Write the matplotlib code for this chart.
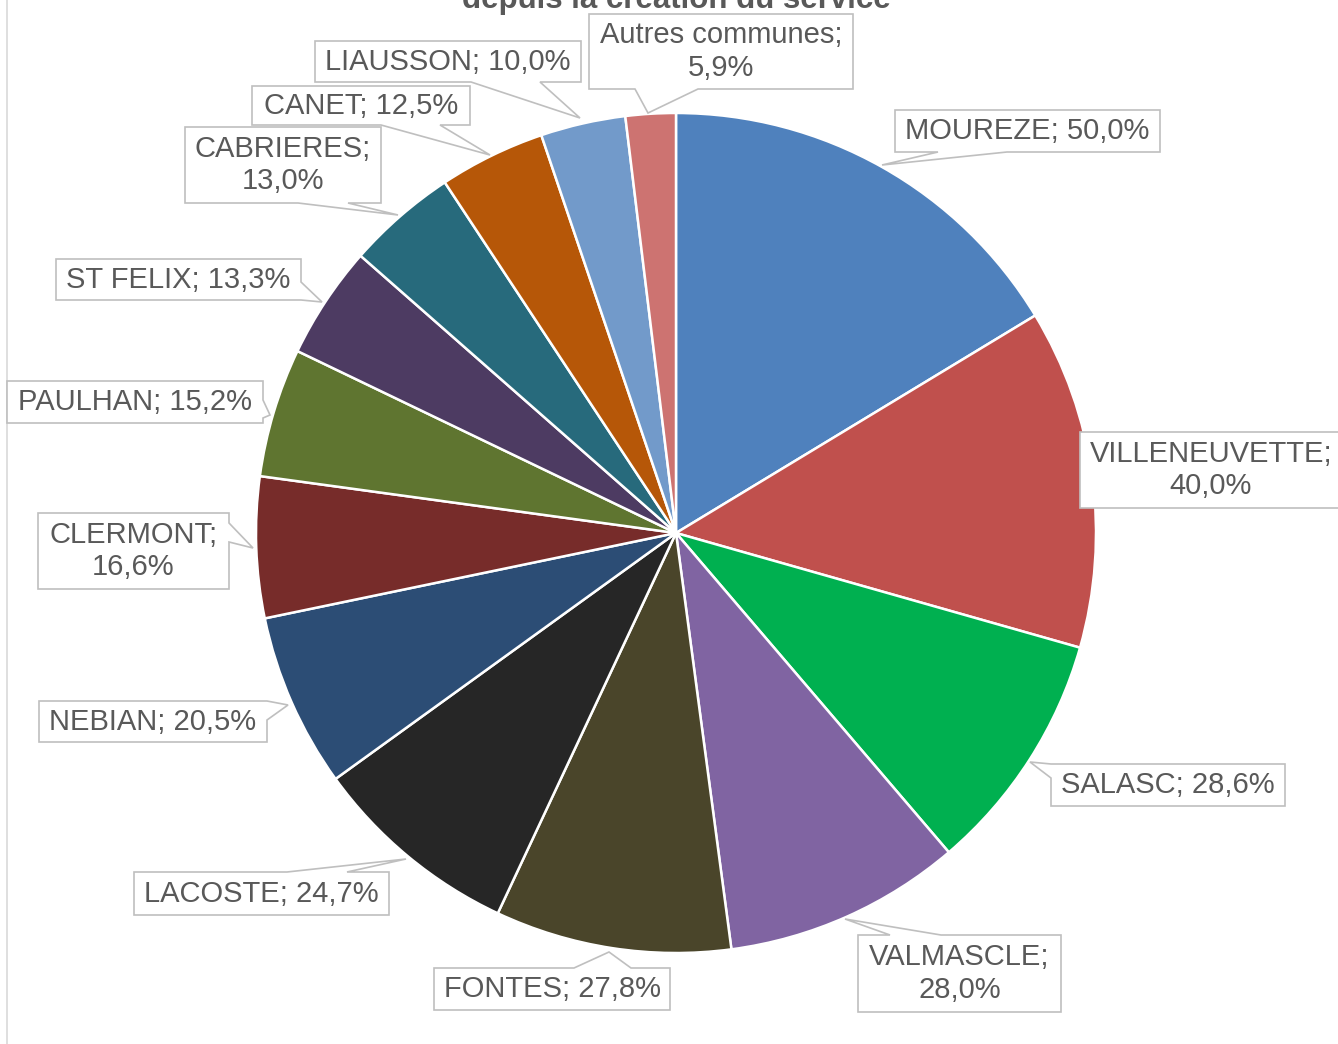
import matplotlib
matplotlib.use("Agg")
import matplotlib.pyplot as plt
from matplotlib.patches import Polygon

# ---------------- data ----------------
communes = ["MOUREZE", "VILLENEUVETTE", "SALASC", "VALMASCLE", "FONTES",
            "LACOSTE", "NEBIAN", "CLERMONT", "PAULHAN", "ST FELIX",
            "CABRIERES", "CANET", "LIAUSSON", "Autres communes"]
rates = [50.0, 40.0, 28.6, 28.0, 27.8, 24.7, 20.5, 16.6, 15.2, 13.3,
         13.0, 12.5, 10.0, 5.9]
colors = ["#4F81BD", "#C0504D", "#00B050", "#8064A2", "#4A452A",
          "#262626", "#2C4D75", "#772C2A", "#5F7530", "#4D3B62",
          "#276A7C", "#B65708", "#729ACA", "#CD7371"]
title_text = "depuis la création du service"
two_line = {"VILLENEUVETTE", "CLERMONT", "CABRIERES", "Autres communes", "VALMASCLE"}

# ---------------- layout (pixel coords, y downward) ----------------
W, H = 1338, 1044
# box (x0, y0, x1, y1), side, base (a, b), tip (x, y)
callouts = {
    "MOUREZE":        ((895, 110, 1160, 152), "bottom", (938, 1007), (882, 165)),
    "VILLENEUVETTE":  ((1080, 432, 1342, 508), None, None, None),
    "SALASC":         ((1051, 764, 1285, 806), "left", (764, 778), (1030, 762)),
    "VALMASCLE":      ((858, 935, 1061, 1012), "top", (890, 941), (845, 919)),
    "FONTES":         ((434, 968, 670, 1010), "top", (574, 631), (609, 952)),
    "LACOSTE":        ((134, 872, 389, 915), "top", (287, 347), (406, 859)),
    "NEBIAN":         ((39, 701, 267, 742), "right", (701, 720), (288, 705)),
    "CLERMONT":       ((38, 513, 229, 589), "right", (523, 542), (253, 548)),
    "PAULHAN":        ((7, 381, 263, 423), "right", (400, 418), (270, 415)),
    "ST FELIX":       ((56, 259, 301, 300), "right", (282, 300), (322, 302)),
    "CABRIERES":      ((185, 127, 381, 203), "bottom", (298, 348), (398, 215)),
    "CANET":          ((252, 86, 470, 125), "bottom", (381, 440), (490, 155)),
    "LIAUSSON":       ((315, 41, 581, 82), "bottom", (471, 540), (580, 118)),
    "Autres communes": ((589, 14, 853, 89), "bottom", (635, 698), (648, 113)),
}

def yu(y):
    return H - y

fig = plt.figure(figsize=(W / 100, H / 100), dpi=100)
ax = fig.add_axes([0, 0, 1, 1])

ax.pie(rates, colors=colors, startangle=90, counterclock=False,
       center=(676, yu(533)), radius=420,
       wedgeprops=dict(edgecolor="white", linewidth=1.8))

ax.set_xlim(0, W)
ax.set_ylim(0, H)
ax.set_aspect("auto")
ax.axis("off")

# left chart-area border
ax.plot([7, 7], [0, H], color="#d9d9d9", lw=1.2, zorder=1)

def callout_poly(box, side, base, tip):
    x0, y0, x1, y1 = box
    TL, TR, BR, BL = (x0, y0), (x1, y0), (x1, y1), (x0, y1)
    if side is None:
        pts = [TL, TR, BR, BL]
    elif side == "top":
        a, b = base
        pts = [TL, (a, y0), tip, (b, y0), TR, BR, BL]
    elif side == "right":
        a, b = base
        pts = [TL, TR, (x1, a), tip, (x1, b), BR, BL]
    elif side == "bottom":
        a, b = base
        pts = [TL, TR, BR, (b, y1), tip, (a, y1), BL]
    else:
        a, b = base
        pts = [TL, TR, BR, BL, (x0, b), tip, (x0, a)]
    return [(px, yu(py)) for px, py in pts]

for name, val in zip(communes, rates):
    box, side, base, tip = callouts[name]
    sep = "\n" if name in two_line else " "
    label = f"{name};{sep}{val:.1f}%".replace(".", ",")
    poly = Polygon(callout_poly(box, side, base, tip), closed=True,
                   facecolor="white", edgecolor="#bfbfbf", lw=1.2, zorder=5)
    ax.add_patch(poly)
    cx = (box[0] + box[2]) / 2
    cy = (box[1] + box[3]) / 2
    ax.text(cx, yu(cy), label, ha="center", va="center", fontsize=21,
            family="Liberation Sans", color="#595959", linespacing=1.2,
            zorder=6)

ax.text(676, yu(8), title_text, ha="center", va="baseline", fontsize=22.5,
        fontweight="bold", family="Liberation Sans", color="#595959", zorder=6)

fig.savefig("out.png", dpi=100)
